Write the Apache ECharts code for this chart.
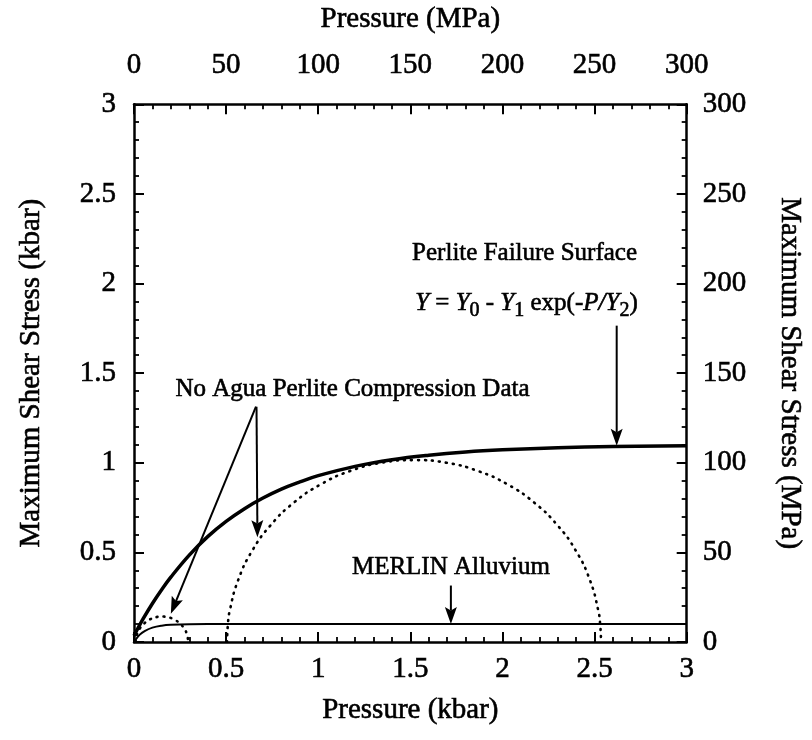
<!DOCTYPE html>
<html>
<head>
<meta charset="utf-8">
<script src="https://cdn.jsdelivr.net/npm/echarts@6/dist/echarts.min.js"></script>
<style>
  html, body { margin: 0; padding: 0; background: #fff; }
  #chart { width: 812px; height: 740px; }
</style>
</head>
<body>
<div id="chart"></div>
<script>
// Perlite failure surface, Y = Y0 - Y1 exp(-P/Y2) (kbar)
const failurePressure = [0, 0.05, 0.1, 0.15, 0.2, 0.3, 0.4, 0.5, 0.6, 0.7, 0.8, 0.9, 1.0, 1.2, 1.4, 1.6, 1.8, 2.0, 2.3, 2.6, 3.0];
const failureStress   = [0.035, 0.13, 0.215, 0.292, 0.362, 0.485, 0.588, 0.673, 0.744, 0.803, 0.853, 0.893, 0.928, 0.98, 1.017, 1.042, 1.06, 1.072, 1.084, 1.091, 1.095];

// MERLIN alluvium strength curve (kbar)
const merlinPressure = [0, 0.03, 0.06, 0.1, 0.15, 0.2, 0.3, 0.5, 1.0, 2.0, 3.0];
const merlinStress   = [0, 0.04, 0.062, 0.08, 0.091, 0.096, 0.099, 0.1, 0.1, 0.1, 0.1];

// No Agua perlite compression data: low-pressure Mohr circle (kbar)
const lowCirclePressure = [0.010, 0.015, 0.029, 0.052, 0.081, 0.115, 0.152, 0.189, 0.223, 0.252, 0.275, 0.289, 0.294];
const lowCircleStress   = [0, 0.037, 0.071, 0.100, 0.123, 0.137, 0.142, 0.137, 0.123, 0.100, 0.071, 0.037, 0];

// No Agua perlite compression data: high-pressure Mohr circle (kbar)
const highCirclePressure = [0.505, 0.509, 0.520, 0.566, 0.641, 0.742, 0.868, 1.013, 1.173, 1.344, 1.52, 1.696, 1.867, 2.028, 2.172, 2.298, 2.399, 2.474, 2.520, 2.531, 2.535];
const highCircleStress   = [0, 0.0885, 0.176, 0.347, 0.508, 0.652, 0.778, 0.879, 0.954, 1.0, 1.015, 1.0, 0.954, 0.879, 0.778, 0.652, 0.508, 0.347, 0.176, 0.0885, 0];

// Axis ranges
const kbarRange = [0, 3];
const mpaRange = [0, 300];

// Callout texts and arrows, placed in kbar coordinates
const noteTexts = [
  { text: 'Perlite Failure Surface', at: [2.12, 2.17] },
  { text: '{i|Y} = {i|Y}{s|0} - {i|Y}{s|1} exp(-{i|P/Y}{s|2})', at: [2.13, 1.89] },
  { text: 'No Agua Perlite Compression Data', at: [1.186, 1.41] },
  { text: 'MERLIN Alluvium', at: [1.72, 0.418] }
];
const noteArrows = [
  [2.62, 1.765, 2.62, 1.095],
  [0.665, 1.313, 0.67, 0.585],
  [0.662, 1.313, 0.2, 0.158],
  [1.72, 0.315, 1.72, 0.1]
];

const serif = '"Liberation Serif", "DejaVu Serif", serif';
const black = '#000';
// a thin outline gives the glyphs the heavier weight of the printed figure
const ink = { textBorderColor: black, textBorderWidth: 0.6 };
const rawInk = { stroke: black, lineWidth: 0.6 };

const zip = (xs, ys) => xs.map((x, i) => [x, ys[i]]);

function axisCommon(min, max, interval, labelMargin) {
  return {
    type: 'value',
    min: min, max: max, interval: interval,
    axisLine: { show: true, onZero: false, lineStyle: { color: black, width: 2.5 } },
    axisTick: { show: true, inside: true, length: 10, lineStyle: { color: black, width: 2 } },
    minorTick: { show: true, splitNumber: 5, length: 5, lineStyle: { color: black, width: 1.8 } },
    splitLine: { show: false },
    minorSplitLine: { show: false },
    axisLabel: Object.assign({ color: black, fontFamily: serif, fontSize: 29, margin: labelMargin }, ink),
    nameTextStyle: Object.assign({ color: black, fontFamily: serif, fontSize: 29 }, ink),
    nameLocation: 'middle'
  };
}

const chart = echarts.init(document.getElementById('chart'), null, { renderer: 'canvas' });

const option = {
  backgroundColor: '#fff',
  animation: false,
  grid: { left: 134, right: 124, top: 103, bottom: 98 },
  xAxis: [
    Object.assign(axisCommon(kbarRange[0], kbarRange[1], 0.5, 13), {
      position: 'bottom', name: 'Pressure (kbar)', nameGap: 54
    }),
    Object.assign(axisCommon(mpaRange[0], mpaRange[1], 50, 24), {
      position: 'top', name: 'Pressure (MPa)', nameGap: 70
    })
  ],
  yAxis: [
    Object.assign(axisCommon(kbarRange[0], kbarRange[1], 0.5, 18), {
      position: 'left', name: 'Maximum Shear Stress (kbar)', nameGap: 88
    }),
    Object.assign(axisCommon(mpaRange[0], mpaRange[1], 50, 16), {
      position: 'right', name: 'Maximum Shear Stress (MPa)', nameGap: 88, nameRotate: -90
    })
  ],
  series: [
    {
      name: 'Perlite Failure Surface', type: 'line', xAxisIndex: 0, yAxisIndex: 0,
      data: zip(failurePressure, failureStress), smooth: 0.4, symbol: 'none',
      lineStyle: { color: black, width: 3.5 }, z: 3
    },
    {
      name: 'MERLIN Alluvium', type: 'line', xAxisIndex: 0, yAxisIndex: 0,
      data: zip(merlinPressure, merlinStress), smooth: 0.4, symbol: 'none',
      lineStyle: { color: black, width: 2 }, z: 3
    },
    {
      name: 'Low-pressure circle', type: 'line', xAxisIndex: 0, yAxisIndex: 0,
      data: zip(lowCirclePressure, lowCircleStress), smooth: 0.5, symbol: 'none',
      lineStyle: { color: black, width: 2.6, type: [1, 6], cap: 'round' }, z: 2
    },
    {
      name: 'High-pressure circle', type: 'line', xAxisIndex: 0, yAxisIndex: 0,
      data: zip(highCirclePressure, highCircleStress), smooth: 0.5, symbol: 'none',
      lineStyle: { color: black, width: 2.6, type: [1, 6], cap: 'round' }, z: 2
    },
    {
      name: 'Arrows', type: 'custom', xAxisIndex: 0, yAxisIndex: 0,
      data: noteArrows, silent: true, z: 4,
      renderItem: function (params, api) {
        const a = api.coord([api.value(0), api.value(1)]);
        const b = api.coord([api.value(2), api.value(3)]);
        const dx = b[0] - a[0], dy = b[1] - a[1];
        const len = Math.sqrt(dx * dx + dy * dy);
        const ux = dx / len, uy = dy / len;
        const headLen = 17, headHalf = 6;
        const base = [b[0] - ux * headLen, b[1] - uy * headLen];
        const notch = [b[0] - ux * headLen * 0.8, b[1] - uy * headLen * 0.8];
        return {
          type: 'group',
          children: [
            { type: 'line', shape: { x1: a[0], y1: a[1], x2: notch[0], y2: notch[1] },
              style: { stroke: black, lineWidth: 2 } },
            { type: 'polygon', shape: { points: [
                [b[0], b[1]],
                [base[0] - uy * headHalf, base[1] + ux * headHalf],
                notch,
                [base[0] + uy * headHalf, base[1] - ux * headHalf]
              ] }, style: { fill: black } }
          ]
        };
      }
    },
    {
      name: 'Notes', type: 'custom', xAxisIndex: 0, yAxisIndex: 0,
      data: noteTexts.map((n, i) => [n.at[0], n.at[1], i]), silent: true, z: 5,
      renderItem: function (params, api) {
        const p = api.coord([api.value(0), api.value(1)]);
        const note = noteTexts[api.value(2)];
        return {
          type: 'text', x: p[0], y: p[1],
          style: Object.assign({
            text: note.text, fill: black, fontFamily: serif, fontSize: 25, lineHeight: 36,
            align: 'center', verticalAlign: 'middle',
            rich: {
              i: Object.assign({ fontFamily: serif, fontSize: 25, fontStyle: 'italic', lineHeight: 36, fill: black }, rawInk),
              s: Object.assign({ fontFamily: serif, fontSize: 20, lineHeight: 20, verticalAlign: 'bottom', fill: black }, rawInk)
            }
          }, rawInk)
        };
      }
    }
  ]
};

chart.setOption(option);
</script>
</body>
</html>
